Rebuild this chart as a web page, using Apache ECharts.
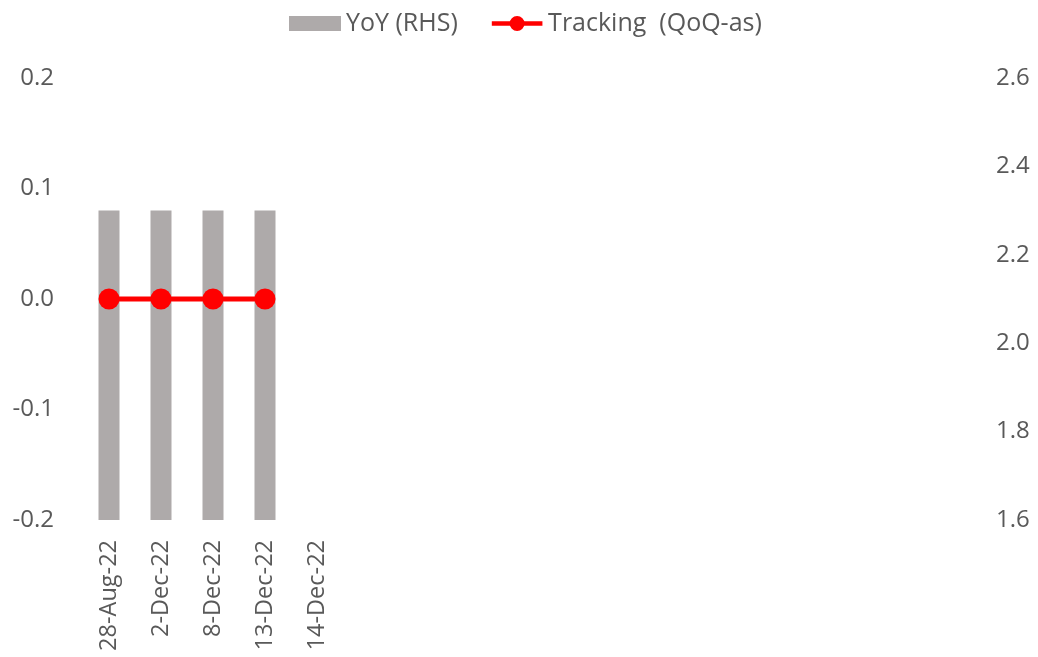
<!DOCTYPE html>
<html>
<head>
<meta charset="utf-8">
<script src="https://cdn.jsdelivr.net/npm/echarts@6/dist/echarts.min.js"></script>
<style>
  html, body { margin: 0; padding: 0; background: #fff; }
  #main { width: 1038px; height: 657px; }
</style>
</head>
<body>
<div id="main"></div>
<script>
// dates shown on the axis, then blank slots that fill the rest of the plot
var categories = ['28-Aug-22', '2-Dec-22', '8-Dec-22', '13-Dec-22', '14-Dec-22',
    '', '', '', '', '', '', '', '', '', '', '', ''];
var yoyValues = [2.3, 2.3, 2.3, 2.3];          // RHS
var trackingValues = [0.0, 0.0, 0.0, 0.0];     // LHS
var leftTicks = { min: -0.2, max: 0.2, interval: 0.1 };
var rightTicks = { min: 1.6, max: 2.6, interval: 0.2 };

var chart = echarts.init(document.getElementById('main'));
var font = 'Open Sans';
var textColor = '#595959';

// line + dot legend marker, like the spreadsheet one
var lineDotIcon = 'path://M0,5.5 L54,5.5 L54,10.5 L0,10.5 Z M19,8 A8,8 0 1,1 35,8 A8,8 0 1,1 19,8 Z';

var option = {
    animation: false,
    textStyle: { fontFamily: font },
    legend: {
        top: 6,
        left: 284,
        itemGap: 34,
        itemWidth: 52,
        itemHeight: 15,
        textStyle: { fontSize: 25, color: textColor, fontFamily: font },
        data: [
            { name: 'YoY (RHS)', icon: 'rect' },
            { name: 'Tracking  (QoQ-as)', icon: lineDotIcon, itemStyle: { color: '#FF0000' } }
        ]
    },
    grid: { left: 83, right: 71, top: 78, bottom: 137 },
    xAxis: {
        type: 'category',
        data: categories,
        axisLine: { show: false },
        axisTick: { show: false },
        axisLabel: {
            rotate: 90,
            interval: 0,
            margin: 20,
            fontSize: 23.5,
            color: textColor,
            fontFamily: font
        }
    },
    yAxis: [
        {
            type: 'value',
            min: leftTicks.min,
            max: leftTicks.max,
            interval: leftTicks.interval,
            splitLine: { show: false },
            axisLine: { show: false },
            axisTick: { show: false },
            axisLabel: {
                margin: 29,
                fontSize: 24,
                color: textColor,
                fontFamily: font,
                formatter: function (v) { return v.toFixed(1); }
            }
        },
        {
            type: 'value',
            position: 'right',
            min: rightTicks.min,
            max: rightTicks.max,
            interval: rightTicks.interval,
            splitLine: { show: false },
            axisLine: { show: false },
            axisTick: { show: false },
            axisLabel: {
                margin: 29,
                fontSize: 24,
                color: textColor,
                fontFamily: font,
                formatter: function (v) { return v.toFixed(1); }
            }
        }
    ],
    series: [
        {
            name: 'YoY (RHS)',
            type: 'bar',
            yAxisIndex: 1,
            barWidth: 21,
            itemStyle: { color: '#AEAAAA' },
            data: yoyValues
        },
        {
            name: 'Tracking  (QoQ-as)',
            type: 'line',
            yAxisIndex: 0,
            symbol: 'circle',
            symbolSize: 21,
            lineStyle: { color: '#FF0000', width: 5 },
            itemStyle: { color: '#FF0000' },
            data: trackingValues
        }
    ]
};
chart.setOption(option);
</script>
</body>
</html>
